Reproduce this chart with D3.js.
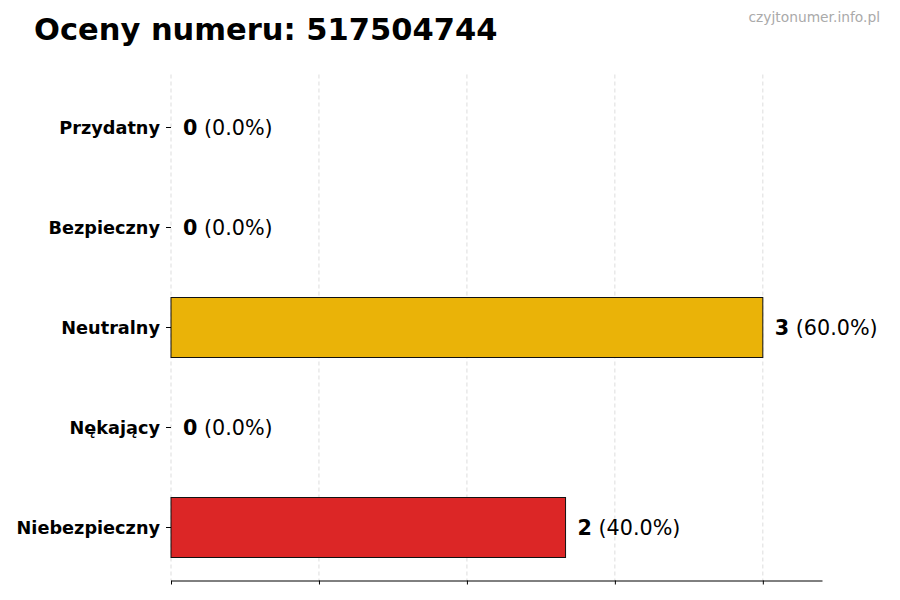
<!DOCTYPE html>
<html>
<head>
<meta charset="utf-8">
<script src="https://cdn.jsdelivr.net/npm/d3@7"></script>
<style>
  body { margin: 0; background: #fff; }
  text { font-family: "DejaVu Sans", sans-serif; }
</style>
</head>
<body>
<svg id="chart" width="900" height="600"></svg>
<script>
'use strict';

// top to bottom, as in the picture
var categories = ['Przydatny', 'Bezpieczny', 'Neutralny', 'Nękający', 'Niebezpieczny'];
var counts = [0, 0, 3, 0, 2];
var barColors = ['#22C55E', '#3B82F6', '#EAB308', '#F97316', '#DC2626'];
var gridTicks = [0, 0.75, 1.5, 2.25, 3];
var titleText = 'Oceny numeru: 517504744';
var watermark = 'czyjtonumer.info.pl';

var svg = d3.select('#chart');

var total = d3.sum(counts),
    maxVal = d3.max(counts);

var x = d3.scaleLinear()
    .domain([0, maxVal * 1.1])
    .range([171, 822]);

var y = d3.scaleBand()
    .domain(categories)
    .range([74.5, 580.5])
    .paddingInner(0.4)
    .paddingOuter(0.23);

// dashed vertical grid
svg.append('g')
    .selectAll('line')
    .data(gridTicks)
    .enter().append('line')
    .attr('x1', function(d) { return x(d); })
    .attr('x2', function(d) { return x(d); })
    .attr('y1', 74.5)
    .attr('y2', 580.5)
    .attr('stroke', '#d4d4d4')
    .attr('stroke-width', 0.8)
    .attr('stroke-dasharray', '4,3');

// bars
svg.append('g')
    .selectAll('rect')
    .data(categories)
    .enter().append('rect')
    .attr('x', x(0))
    .attr('y', function(d) { return y(d); })
    .attr('width', function(d, i) { return x(counts[i]) - x(0); })
    .attr('height', y.bandwidth())
    .attr('fill', function(d, i) { return barColors[i]; })
    .attr('stroke', '#111')
    .attr('stroke-width', 1);

// bottom axis, no labels
var xAxis = svg.append('g')
    .attr('transform', 'translate(0,580.5)')
    .call(d3.axisBottom(x).tickValues(gridTicks).tickSize(4).tickFormat('').tickSizeOuter(0));
xAxis.select('.domain').attr('stroke', '#000').attr('stroke-width', 1);
xAxis.selectAll('.tick line').attr('stroke', '#000');

// left axis: ticks and labels, no spine
var yAxis = svg.append('g')
    .attr('transform', 'translate(171,0)')
    .call(d3.axisLeft(y).tickSize(5).tickPadding(6).tickSizeOuter(0));
yAxis.select('.domain').remove();
yAxis.selectAll('.tick line').attr('stroke', '#000');
yAxis.selectAll('.tick text')
    .attr('dy', '0.39em')
    .attr('font-family', '"DejaVu Sans", sans-serif')
    .attr('font-size', '17.7px')
    .attr('font-weight', 'bold')
    .attr('fill', '#000');

// value labels
var labels = svg.append('g')
    .selectAll('text')
    .data(categories)
    .enter().append('text')
    .attr('x', function(d, i) { return x(counts[i]) + 12; })
    .attr('y', function(d) { return y(d) + y.bandwidth() / 2; })
    .attr('dy', '0.35em')
    .attr('font-size', '20.7px')
    .attr('fill', '#000');

labels.append('tspan')
    .attr('font-weight', 'bold')
    .text(function(d, i) { return counts[i]; });

labels.append('tspan')
    .text(function(d, i) {
        var pct = total ? counts[i] / total * 100 : 0;
        return ' (' + pct.toFixed(1) + '%)';
    });

// title
svg.append('text')
    .attr('x', 34)
    .attr('y', 40)
    .attr('font-size', '30.5px')
    .attr('font-weight', 'bold')
    .attr('fill', '#000')
    .text(titleText);

svg.append('text')
    .attr('x', 880)
    .attr('y', 22)
    .attr('text-anchor', 'end')
    .attr('font-size', '13.8px')
    .attr('fill', '#aaaaaa')
    .text(watermark);
</script>
</body>
</html>
